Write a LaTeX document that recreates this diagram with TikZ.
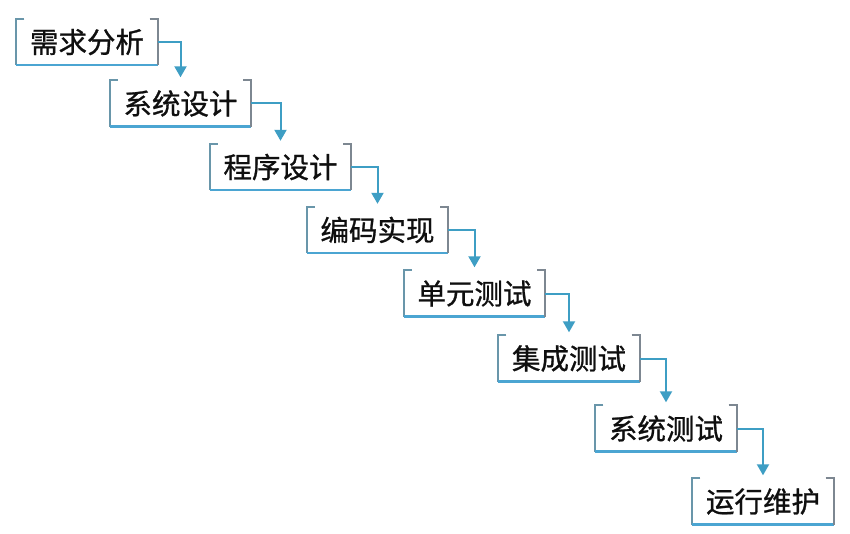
\documentclass[tikz,border=0pt]{standalone}
\usepackage{fontspec}
\newfontfamily\cjk{Noto Sans CJK SC}[FakeBold=0.9]
\usetikzlibrary{arrows.meta}
\definecolor{conncol}{RGB}{62,158,196}
\definecolor{leftcol}{RGB}{105,150,170}
\definecolor{botcol}{RGB}{75,165,210}
\definecolor{rightcol}{RGB}{125,135,145}
\definecolor{txtcol}{RGB}{15,15,15}
\tikzset{
  stagebox/.style={minimum width=141pt, minimum height=46pt, inner sep=0pt, font=\cjk\fontsize{28.5}{31}\selectfont, text=txtcol},
  conn/.style={draw=conncol, line width=2pt, -{Triangle[width=12pt,length=11pt]}, shorten >=3pt},
  lside/.style={draw=leftcol, line width=2.2pt},
  bside/.style={draw=botcol, line width=2.6pt},
  rside/.style={draw=rightcol, line width=2.2pt},
}
\newcommand{\bracketbox}[1]{%
  \draw[lside] ([xshift=8pt]#1.north west) -- (#1.north west) -- (#1.south west);
  \draw[bside] (#1.south west) -- (#1.south east);
  \draw[rside] ([xshift=-8pt]#1.north east) -- (#1.north east) -- (#1.south east);
}
\begin{document}
\begin{tikzpicture}[x=1pt,y=-1pt]
\fill[white] (0,0) rectangle (850,534);
\useasboundingbox (0,0) rectangle (850,534);
\node[stagebox] (s1) at (87,42) {需求分析};
\node[stagebox] (s2) at (180.5,103.5) {系统设计};
\node[stagebox] (s3) at (280.5,167) {程序设计};
\node[stagebox] (s4) at (377.5,230) {编码实现};
\node[stagebox] (s5) at (474.5,293.5) {单元测试};
\node[stagebox] (s6) at (569,358.5) {集成测试};
\node[stagebox] (s7) at (666,428.5) {系统测试};
\node[stagebox] (s8) at (763,501.5) {运行维护};
\foreach \n in {s1,s2,s3,s4,s5,s6,s7,s8} {\bracketbox{\n}}
\draw[conn] (s1.east) -| (s2.north);
\draw[conn] (s2.east) -| (s3.north);
\draw[conn] (s3.east) -| (s4.north);
\draw[conn] (s4.east) -| (s5.north);
\draw[conn] (s5.east) -| (s6.north);
\draw[conn] (s6.east) -| (s7.north);
\draw[conn] (s7.east) -| (s8.north);
\end{tikzpicture}
\end{document}
